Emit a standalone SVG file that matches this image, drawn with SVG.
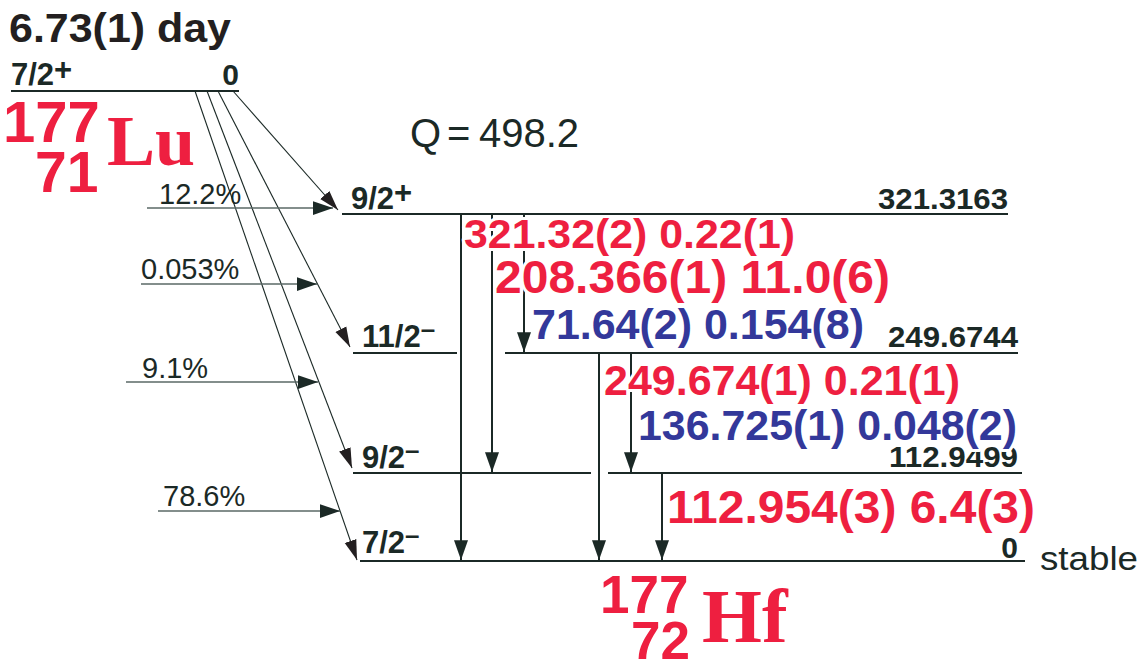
<svg xmlns="http://www.w3.org/2000/svg" width="1141" height="662" viewBox="0 0 1141 662">
<style>
text{font-family:"Liberation Sans",Arial,sans-serif;}
.b{font-weight:bold;}
.lvl{stroke:#1b2926;stroke-width:2;fill:none;}
.gam{stroke:#1b2926;stroke-width:2;fill:none;marker-end:url(#ga);}
.bet{stroke:#1b2926;stroke-width:1.1;fill:none;marker-end:url(#ba);}
.pct{stroke:#5a6866;stroke-width:1.6;fill:none;marker-end:url(#pa);}
.spin{font-size:31px;font-weight:bold;fill:#1b2926;}
.en{font-size:30px;font-weight:bold;fill:#1b2926;text-anchor:end;}
.pt{font-size:29px;fill:#1b2926;}
.red{fill:#ee1f40;}
.blue{fill:#33389a;}
.gl{font-weight:bold;stroke:#ffffff;stroke-width:6;paint-order:stroke;stroke-linejoin:round;}
.nuc{font-weight:bold;fill:#ee1f40;}
.sym{font-family:"Liberation Serif","Times New Roman",serif;font-weight:bold;fill:#ee1f40;}
</style>
<defs>
<marker id="ga" markerUnits="userSpaceOnUse" markerWidth="20" markerHeight="14" refX="17" refY="6" orient="auto" viewBox="0 0 17 12">
<path d="M0,0 L17,6 L0,12 z" fill="#1b2926"/>
</marker>
<marker id="ba" markerUnits="userSpaceOnUse" markerWidth="20" markerHeight="14" refX="18" refY="5.5" orient="auto" viewBox="0 0 18 11">
<path d="M0,0 L18,5.5 L0,11 z" fill="#231f20"/>
</marker>
<marker id="pa" markerUnits="userSpaceOnUse" markerWidth="20" markerHeight="14" refX="16" refY="5.5" orient="auto" viewBox="0 0 16 11">
<path d="M0,0 L16,5.5 L0,11 z" fill="#1b2926"/>
</marker>
</defs>
<rect width="1141" height="662" fill="#ffffff"/>

<g id="halflife">
<text x="9" y="42" class="b" font-size="41" fill="#231f20" textLength="222" lengthAdjust="spacingAndGlyphs">6.73(1) day</text>
</g>

<g id="parent-level">
<line class="lvl" x1="11" y1="91" x2="239" y2="91"/>
<text x="11" y="85" class="spin" font-size="29">7/2<tspan dy="-5">+</tspan></text>
<text x="239" y="85" class="en">0</text>
</g>

<g id="parent-nuclide">
<text x="3" y="142" class="nuc" font-size="58">177</text>
<text x="35" y="192" class="nuc" font-size="57">71</text>
<text x="107" y="165" class="sym" font-size="72">Lu</text>
</g>

<g id="qvalue">
<text y="147" font-size="40" fill="#1b2926"><tspan x="410">Q</tspan><tspan x="447">=</tspan><tspan x="479">498.2</tspan></text>
</g>

<g id="level-321">
<line class="lvl" x1="342" y1="214" x2="1008" y2="214"/>
<text x="351" y="209" class="spin">9/2<tspan dy="-6">+</tspan></text>
<text x="1008" y="209" class="en" textLength="130" lengthAdjust="spacingAndGlyphs">321.3163</text>
</g>

<g id="level-249">
<line class="lvl" x1="353" y1="353" x2="457" y2="353"/>
<line class="lvl" x1="505" y1="353" x2="1018" y2="353"/>
<text x="362" y="347" class="spin">11/2<tspan dy="-9" font-size="26">–</tspan></text>
<text x="1018" y="347" class="en" textLength="130" lengthAdjust="spacingAndGlyphs">249.6744</text>
</g>

<g id="level-112">
<line class="lvl" x1="353" y1="473" x2="591" y2="473"/>
<line class="lvl" x1="608" y1="473" x2="1022" y2="473"/>
<text x="362" y="468" class="spin">9/2<tspan dy="-9" font-size="26">–</tspan></text>
<text x="1018" y="467" class="en" textLength="129" lengthAdjust="spacingAndGlyphs">112.9499</text>
</g>

<g id="level-0">
<line class="lvl" x1="360" y1="561" x2="1025" y2="561"/>
<text x="362" y="553" class="spin">7/2<tspan dy="-9" font-size="26">–</tspan></text>
<text x="1018" y="558" class="en">0</text>
<text x="1040" y="570" font-size="34" fill="#1b2926" textLength="98" lengthAdjust="spacingAndGlyphs">stable</text>
</g>

<g id="daughter-nuclide">
<text x="600" y="613" class="nuc" font-size="53">177</text>
<text x="631" y="659" class="nuc" font-size="53">72</text>
<text x="702" y="642" class="sym" font-size="77">Hf</text>
</g>

<g id="connectors">
<line class="bet" x1="233" y1="91" x2="338" y2="210"/>
<line class="bet" x1="218" y1="91" x2="350" y2="347"/>
<line class="bet" x1="207" y1="91" x2="352" y2="468"/>
<line class="bet" x1="195" y1="91" x2="357" y2="560"/>
<line class="pct" x1="147" y1="208" x2="333" y2="208"/>
<line class="pct" x1="141" y1="284" x2="317" y2="284"/>
<line class="pct" x1="126" y1="382" x2="318" y2="382"/>
<line class="pct" x1="158" y1="511" x2="340" y2="511"/>
<line class="gam" x1="461" y1="214" x2="461" y2="560"/>
<line class="gam" x1="492" y1="214" x2="492" y2="472"/>
<line class="gam" x1="524" y1="214" x2="524" y2="352"/>
<line class="gam" x1="599" y1="353" x2="599" y2="560"/>
<line class="gam" x1="631" y1="353" x2="631" y2="472"/>
<line class="gam" x1="662" y1="473" x2="662" y2="560"/>
</g>

<g id="beta-labels">
<text x="159" y="204" class="pt">12.2%</text>
<text x="141" y="279" class="pt">0.053%</text>
<text x="142" y="378" class="pt">9.1%</text>
<text x="163" y="506" class="pt">78.6%</text>
</g>

<g id="gamma-labels">
<text x="464" y="248" class="gl red" font-size="41" textLength="331" lengthAdjust="spacingAndGlyphs">321.32(2) 0.22(1)</text>
<text x="495" y="293" class="gl red" font-size="47" textLength="395" lengthAdjust="spacingAndGlyphs">208.366(1) 11.0(6)</text>
<text x="532" y="339" class="gl blue" font-size="42" textLength="332" lengthAdjust="spacingAndGlyphs">71.64(2) 0.154(8)</text>
<text x="604" y="395" class="gl red" font-size="42" textLength="356" lengthAdjust="spacingAndGlyphs">249.674(1) 0.21(1)</text>
<text x="638" y="440" class="gl blue" font-size="42" textLength="379" lengthAdjust="spacingAndGlyphs">136.725(1) 0.048(2)</text>
<text x="667" y="523" class="gl red" font-size="47" textLength="368" lengthAdjust="spacingAndGlyphs">112.954(3) 6.4(3)</text>
</g>
</svg>
